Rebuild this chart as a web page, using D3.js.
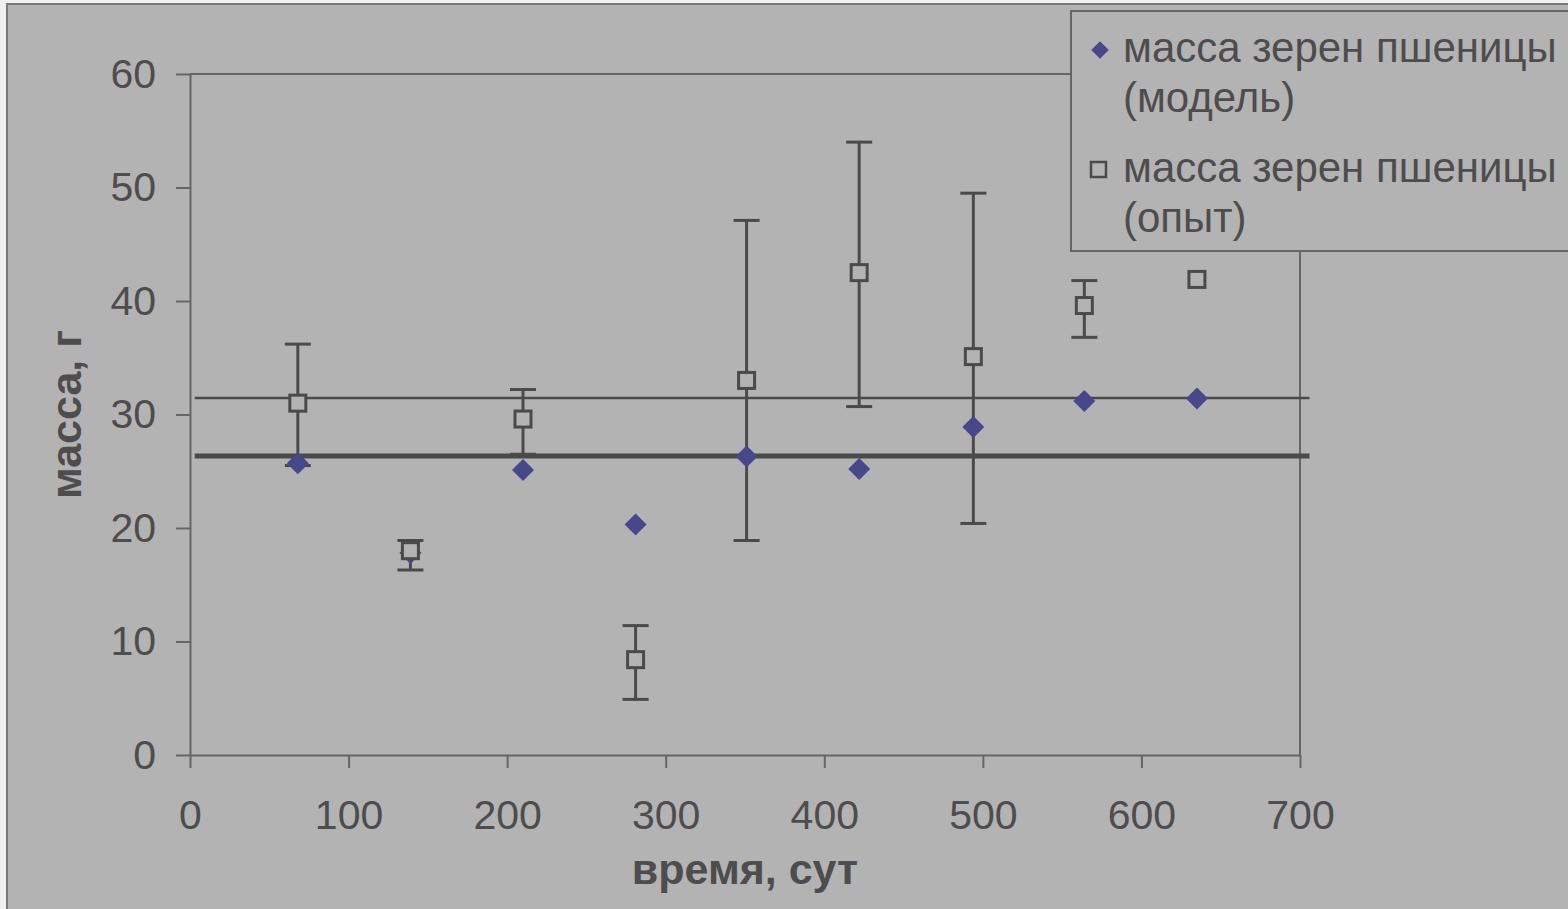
<!DOCTYPE html>
<html>
<head>
  <meta charset="utf-8">
  <script src="https://cdn.jsdelivr.net/npm/d3@7"></script>
  <style>
    body { margin: 0; background: #f0f0f0; }
    text { font-family: "Liberation Sans", Arial, sans-serif; fill: #4d4d4d; }
  </style>
</head>
<body>
  <svg id="chart" width="1568" height="909"></svg>
  <script>
    // data
    var days      = [68, 139, 210, 281, 351, 422, 494, 564, 635];
    var modelMass = [25.7, 17.8, 25.1, 20.3, 26.3, 25.2, 28.9, 31.2, 31.4];
    var expMass   = [31.0, 18.0, 29.6, 8.4, 33.0, 42.5, 35.1, 39.6, 41.9];
    var expHigh   = [36.2, 18.9, 32.2, 11.4, 47.1, 54.0, 49.5, 41.8, null];
    var expLow    = [25.5, 16.3, 26.5, 4.9, 18.9, 30.7, 20.4, 36.8, null];
    var refLines  = [{y: 31.45, w: 2.5}, {y: 26.35, w: 5}];
    var xTicks    = [0, 100, 200, 300, 400, 500, 600, 700];
    var yTicks    = [0, 10, 20, 30, 40, 50, 60];
    var legendLabels = [["масса зерен пшеницы", "(модель)"], ["масса зерен пшеницы", "(опыт)"]];

    var chart  = d3.select("#chart");
    var margin = {top: 74, left: 190, right: 268, bottom: 154};
    var graphWidth  = 1568 - margin.left - margin.right;   // 1110
    var graphHeight = 909 - margin.top - margin.bottom;    // 681
    var axisColr = "#666666";
    var lineColr = "#4a4a4a";
    var dotColr  = "#47478a";

    // outer frame
    chart.append("rect").attr("x", 7).attr("y", 4).attr("width", 1568).attr("height", 910)
         .style("fill", "#b3b3b3").style("stroke", "#7a7a7a").style("stroke-width", 2);

    var x = d3.scaleLinear().domain([0, 700]).range([margin.left, margin.left + graphWidth]);
    var y = d3.scaleLinear().domain([0, 60]).range([margin.top + graphHeight, margin.top]);

    // plot frame (top and right)
    chart.append("line").attr("x1", x(0)).attr("x2", x(700)).attr("y1", y(60)).attr("y2", y(60))
         .style("stroke", axisColr).style("stroke-width", 2);
    chart.append("line").attr("x1", x(700)).attr("x2", x(700)).attr("y1", y(60)).attr("y2", y(0))
         .style("stroke", axisColr).style("stroke-width", 2);

    // axes
    var xAxis = chart.append("g").attr("transform", "translate(0," + y(0) + ")")
         .call(d3.axisBottom(x).tickValues(xTicks).tickSize(13).tickPadding(32).tickSizeOuter(0));
    var yAxis = chart.append("g").attr("transform", "translate(" + x(0) + ",0)")
         .call(d3.axisLeft(y).tickValues(yTicks).tickSize(14).tickPadding(20).tickSizeOuter(0));
    [xAxis, yAxis].forEach(function(g) {
      g.select(".domain").style("stroke", axisColr).style("stroke-width", 2);
      g.selectAll(".tick line").style("stroke", axisColr).style("stroke-width", 2);
      g.selectAll(".tick text").style("font-size", "41px").style("fill", "#4d4d4d")
       .style("font-family", "Liberation Sans, Arial, sans-serif");
    });
    xAxis.selectAll(".tick text").attr("dy", "0.71em");

    // axis titles
    chart.append("text").attr("x", x(350)).attr("y", 884).text("время, сут")
         .style("font-size", "43px").style("font-weight", "bold").style("text-anchor", "middle");
    chart.append("text").attr("transform", "translate(81," + y(30) + ") rotate(-90)").text("масса, г")
         .style("font-size", "43px").style("font-weight", "bold").style("text-anchor", "middle");

    // reference lines
    chart.selectAll(".ref").data(refLines).enter().append("line")
         .attr("x1", x(3)).attr("x2", x(706))
         .attr("y1", function(d) { return y(d.y); }).attr("y2", function(d) { return y(d.y); })
         .style("stroke", lineColr).style("stroke-width", function(d) { return d.w; });

    // error bars
    var err = days.map(function(d, i) { return {x: d, lo: expLow[i], hi: expHigh[i]}; })
                  .filter(function(d) { return d.hi != null; });
    var eb = chart.selectAll(".err").data(err).enter().append("g").style("stroke", lineColr).style("stroke-width", 3);
    eb.append("line").attr("x1", function(d) { return x(d.x); }).attr("x2", function(d) { return x(d.x); })
      .attr("y1", function(d) { return y(d.lo); }).attr("y2", function(d) { return y(d.hi); });
    eb.append("line").attr("x1", function(d) { return x(d.x) - 13; }).attr("x2", function(d) { return x(d.x) + 13; })
      .attr("y1", function(d) { return y(d.hi); }).attr("y2", function(d) { return y(d.hi); });
    eb.append("line").attr("x1", function(d) { return x(d.x) - 13; }).attr("x2", function(d) { return x(d.x) + 13; })
      .attr("y1", function(d) { return y(d.lo); }).attr("y2", function(d) { return y(d.lo); });

    // model diamonds
    var diamond = "M0,-11L11,0L0,11L-11,0Z";
    chart.selectAll(".model").data(days).enter().append("path")
         .attr("d", diamond)
         .attr("transform", function(d, i) { return "translate(" + x(d) + "," + y(modelMass[i]) + ")"; })
         .style("fill", dotColr);

    // experiment squares
    chart.selectAll(".exp").data(days).enter().append("rect")
         .attr("x", function(d) { return x(d) - 8; })
         .attr("y", function(d, i) { return y(expMass[i]) - 8; })
         .attr("width", 16).attr("height", 16)
         .style("fill", "#b3b3b3").style("stroke", lineColr).style("stroke-width", 3);

    // legend
    chart.append("rect").attr("x", 1071).attr("y", 11).attr("width", 520).attr("height", 240)
         .style("fill", "#b3b3b3").style("stroke", axisColr).style("stroke-width", 2);
    chart.append("path").attr("d", diamond)
         .attr("transform", "translate(1100,50) scale(0.8)").style("fill", dotColr);
    chart.append("rect").attr("x", 1091).attr("y", 162).attr("width", 15).attr("height", 15)
         .style("fill", "none").style("stroke", lineColr).style("stroke-width", 2.5);
    legendLabels.forEach(function(lbl, i) {
      lbl.forEach(function(s, j) {
        chart.append("text").attr("x", 1123).attr("y", 62 + i * 120 + j * 50).text(s)
             .style("font-size", "42px");
      });
    });
  </script>
</body>
</html>
